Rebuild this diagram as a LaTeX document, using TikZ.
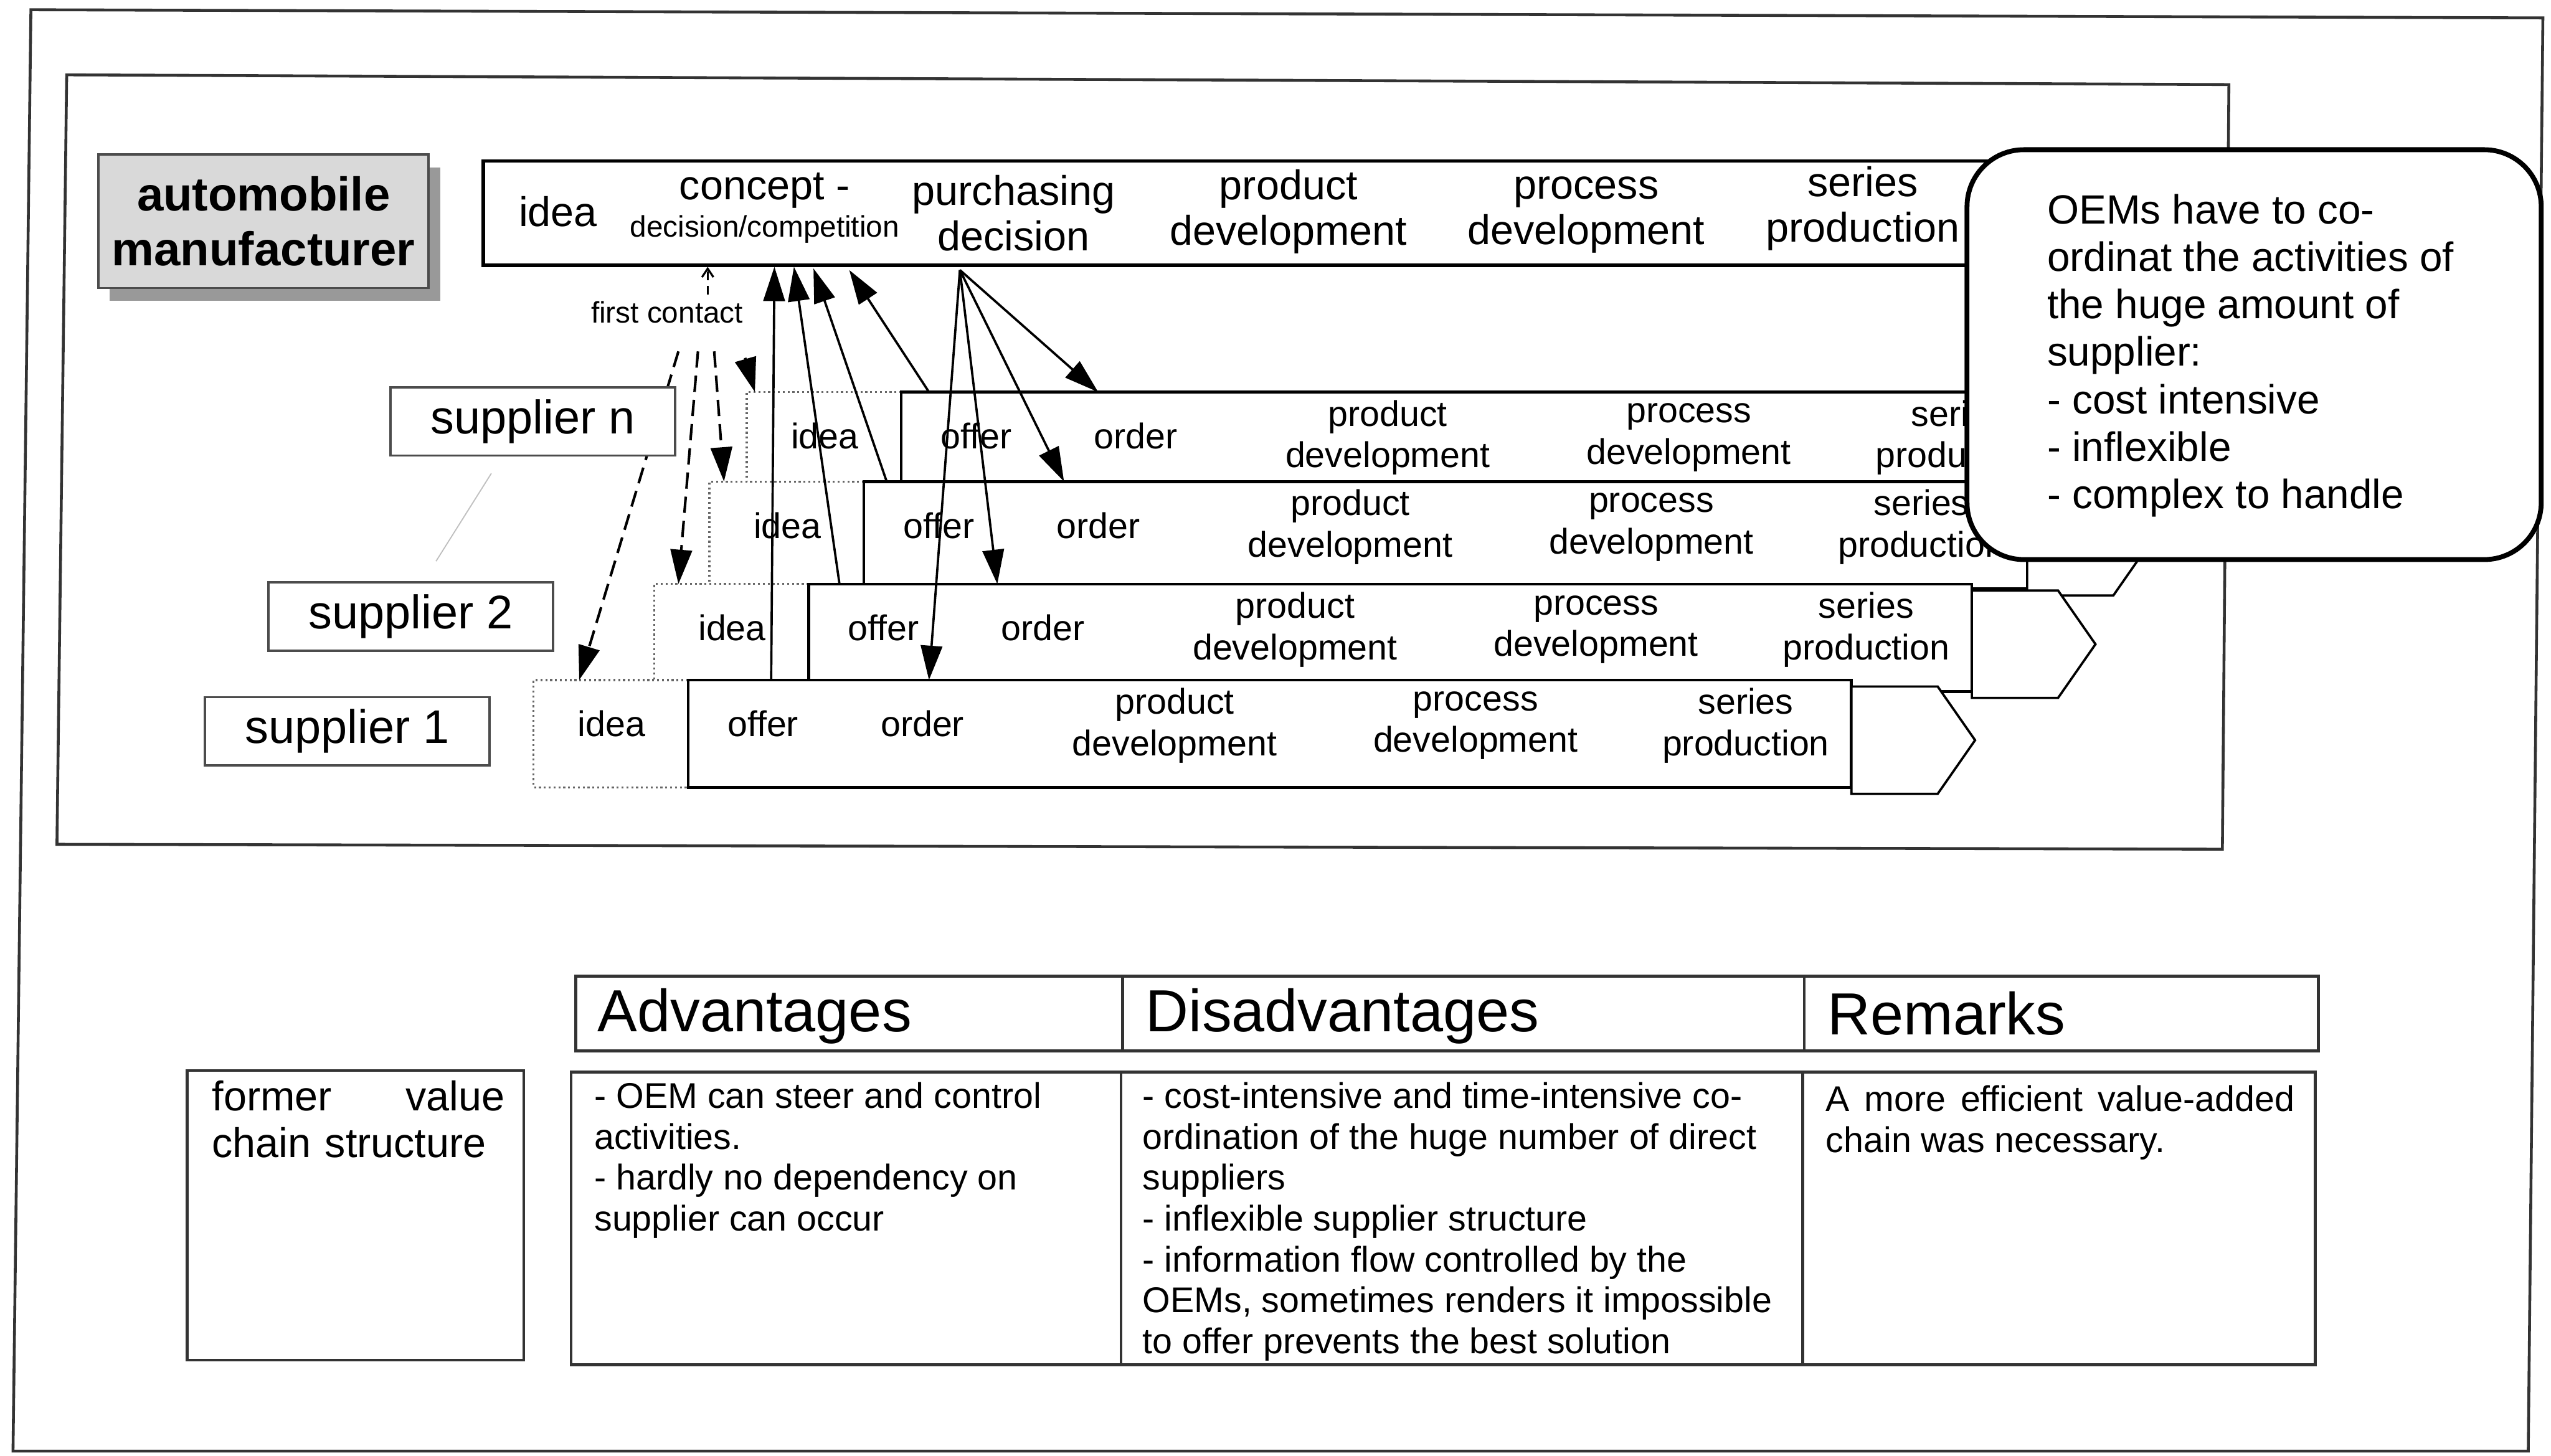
\documentclass[tikz,border=0pt]{standalone}
\usepackage{fontspec}
\setmainfont{Liberation Sans}
\usetikzlibrary{arrows.meta,positioning,shadows}

\tikzset{
  >={Triangle[length=12pt,width=7.5pt]},
  frame/.style={draw=black!80, line width=1pt},
  oembox/.style={draw=black!70, fill=black!15, line width=0.8pt,
    minimum width=4.06cm, minimum height=1.64cm, align=center,
    font=\fontsize{16.6}{19.3}\selectfont\bfseries,
    drop shadow={shadow xshift=4pt, shadow yshift=-4.5pt, fill=black!40, opacity=1}},
  suplbl/.style={draw=black!70, fill=white, line width=0.8pt,
    minimum width=3.5cm, minimum height=0.84cm,
    font=\fontsize{16.5}{19}\selectfont},
  phase/.style={align=center, inner sep=0pt, font=\fontsize{12.5}{14.5}\selectfont},
  oemphase/.style={align=center, inner sep=0pt, font=\fontsize{14.5}{15.9}\selectfont},
  small/.style={inner sep=0pt, font=\fontsize{10.4}{12}\selectfont},
  flow/.style={->, line width=0.8pt},
  contact/.style={->, line width=0.9pt, dash pattern=on 5.7pt off 2.8pt},
  note/.style={draw, line width=1.7pt, fill=white, rounded corners=0.7cm,
    minimum width=7.06cm, minimum height=5.04cm},
  cell/.style={draw=black!80, line width=1pt},
  celltext/.style={anchor=north west, inner sep=0pt, align=left,
    font=\fontsize{12.5}{14.3}\selectfont},
  head/.style={anchor=base west, inner sep=0pt, font=\fontsize{20.8}{24}\selectfont}
}

\begin{document}
\begin{tikzpicture}[x=0.02cm, y=-0.02cm]
  \fill[white] (0,0) rectangle (1568,895);
  \useasboundingbox (0,0) rectangle (1568,895);
  \draw[frame] (19,6) -- (1563,11) -- (1554,892) -- (8,892) -- cycle;
  \draw[frame] (41,46) -- (1370,52) -- (1366,522) -- (35,519) -- cycle;

  % manufacturer and its value chain
  \node[oembox] (oem) at (162,136) {automobile\\manufacturer};
  \draw[line width=1.2pt, fill=white] (297,99) rectangle (1290,163);
  \node[oemphase] (idea0) at (343,130) {idea};
  \node[oemphase] (concept) at (470,117) {concept -};
  \node[small] (compet) at (470,141) {decision/competition};
  \node[oemphase] (purch) at (623,131) {purchasing\\decision};
  \node[oemphase] (prod0) at (792,130) {product\\development};
  \node[oemphase] (proc0) at (975,132) {process\\development};
  \node[oemphase] (ser0) at (1145,128) {series\\production};

  % supplier value chains, top one first
  \foreach \x/\y/\n/\d/\o/\r in {554/241/4/5/17/121, 531/296/3/9/14/123, 497/359/2/15/19/116, 423/418/1/28/51/148}{
    \draw[densely dotted, black!60, line width=0.7pt, fill=white] (\x,\y) -- (\x-95,\y) -- (\x-95,\y+66) -- (\x,\y+66);
    \draw[line width=1pt, fill=white] (\x,\y) rectangle (\x+715,\y+66);
    \draw[line width=0.8pt, fill=white] (\x+715,\y+4) -- (\x+768,\y+4) -- (\x+791,\y+37) -- (\x+768,\y+70) -- (\x+715,\y+70) -- cycle;
    \node[phase] (idea\n) at (\x-47,\y+27) {idea};
    \node[phase] (offer\n) at (\x+46,\y+27) {offer};
    \node[phase] (order\n) at (\x+144,\y+27) {order};
    \node[phase] (prod\n) at (\x+299,\y+28) {product\\development};
    \node[phase] (proc\n) at (\x+484,\y+28) {process\\development};
    \node[phase] (ser\n) at (\x+650,\y+28) {series\\production};
    \coordinate (in\n) at (\x-95+\d,\y);
    \coordinate (of\n) at (\x+\o,\y);
    \coordinate (or\n) at (\x+\r,\y);
  }

  % first contact
  \node[small] (fc) at (410,192) {first contact};
  \coordinate (cu) at (435,181);
  \coordinate (cb) at (435,164);
  \draw[line width=0.7pt, dash pattern=on 3pt off 2pt, -{Straight Barb[length=3pt,width=4pt]}] (cu) -- (cb);
  \coordinate (cs1) at (417,216);
  \coordinate (cs2) at (429,216);
  \coordinate (cs3) at (439,216);
  \coordinate (cs4) at (458,220);
  \draw[contact] (cs1) -- (in1);
  \draw[contact] (cs2) -- (in2);
  \draw[contact] (cs3) -- (in3);
  \draw[contact] (cs4) -- (in4);

  % offers up to the manufacturer
  \coordinate (up1) at (476,164);
  \coordinate (up2) at (488,164);
  \coordinate (up3) at (500,165);
  \coordinate (up4) at (522,166);
  \draw[flow] (of1) -- (up1);
  \draw[flow] (of2) -- (up2);
  \draw[flow] (of3) -- (up3);
  \draw[flow] (of4) -- (up4);

  % orders from the purchasing decision
  \coordinate (pd) at (590,166);
  \draw[flow] (pd) -- (or4);
  \draw[flow] (pd) -- (or3);
  \draw[flow] (pd) -- (or2);
  \draw[flow] (pd) -- (or1);

  \draw[black!25] (302,291) -- (268,345);
  \node[suplbl] (supn) at (327.5,259) {supplier n};
  \node[suplbl] (sup2) at (252.5,379) {supplier 2};
  \node[suplbl] (sup1) at (213.5,449.5) {supplier 1};

  \node[note] (note) at (1385.5,218) {};
  \node[anchor=north west, inner sep=0pt, align=left, font=\fontsize{14.3}{16.6}\selectfont]
    (notetext) at (1258,119) {OEMs have to co-\\ordinat the activities of\\the huge amount of\\supplier:\\- cost intensive\\- inflexible\\- complex to handle};

  % assessment table
  \draw[cell] (354,600) rectangle (1425,646);
  \draw[cell] (690,600) -- (690,646);
  \draw[cell] (1109,600) -- (1109,646);
  \node[head] (adv) at (367,634) {Advantages};
  \node[head] (dis) at (704,634) {Disadvantages};
  \node[head] (rem) at (1123,636) {Remarks};

  \draw[cell] (115,658) rectangle (322,836);
  \node[celltext, text width=3.6cm, font=\fontsize{14.5}{16.4}\selectfont] (former) at (130,664) {former \hfill value\\chain structure};
  \draw[cell] (351,659) rectangle (1423,839);
  \draw[cell] (689,659) -- (689,839);
  \draw[cell] (1108,659) -- (1108,839);
  \node[celltext] (advtext) at (365,665) {- OEM can steer and control\\activities.\\- hardly no dependency on\\supplier can occur};
  \node[celltext] (distext) at (702,665) {- cost-intensive and time-intensive co-\\ordination of the huge number of direct\\suppliers\\- inflexible supplier structure\\- information flow controlled by the\\OEMs, sometimes renders it impossible\\to offer prevents the best solution};
  \node[celltext, text width=5.76cm, align=justify] (remtext) at (1122,667) {A more efficient value-added\linebreak chain was necessary.};
\end{tikzpicture}
\end{document}
